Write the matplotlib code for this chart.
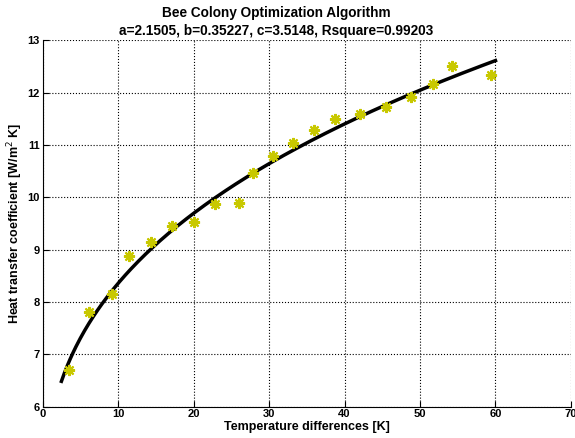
import numpy as np
import matplotlib.pyplot as plt

plt.rcParams['font.family'] = ['Liberation Sans', 'DejaVu Sans']

# Measured points
temp_diff = [3.55, 6.2, 9.2, 11.5, 14.4, 17.1, 20.1, 22.8, 26.0, 27.9, 30.5,
             33.2, 35.9, 38.7, 42.1, 45.5, 48.8, 51.7, 54.3, 59.4]
htc = [6.70, 7.80, 8.15, 8.87, 9.15, 9.45, 9.52, 9.87, 9.90, 10.47, 10.78,
       11.04, 11.28, 11.50, 11.59, 11.73, 11.91, 12.16, 12.50, 12.34]

# Fit parameters (from title): h = a*dT^b + c
a, b, c = 2.1505, 0.35227, 3.5148
rsq = 0.99203
fit_range = (2.5, 60)

fig = plt.figure(figsize=(5.75, 4.38), dpi=100)
ax = fig.add_axes([0.074, 0.0715, 0.919, 0.8365])

xf = np.linspace(fit_range[0], fit_range[1], 300)
ax.plot(xf, a * xf ** b + c, color='black', linewidth=2.5, zorder=3)
ax.plot(temp_diff, htc, linestyle='none', marker=(8, 2, 0), markersize=8,
        markeredgewidth=1.5, color='#c8c800', zorder=4)

ax.set_xlim(0, 70)
ax.set_ylim(6, 13)
ax.set_xticks(range(0, 71, 10))
ax.set_yticks(range(6, 14))
ax.grid(True, color='black', linestyle=':', linewidth=0.8)
ax.spines['top'].set_visible(False)
ax.spines['right'].set_visible(False)
ax.tick_params(direction='in', labelsize=8, length=4, pad=2)
for lbl in ax.get_xticklabels() + ax.get_yticklabels():
    lbl.set_fontweight('bold')

ax.set_xlabel('Temperature differences [K]', fontsize=9, fontweight='bold', labelpad=1)
ax.set_ylabel('Heat transfer coefficient [W/m$^2$ K]', fontsize=9,
              fontweight='bold', labelpad=2)
fig.text(0.48, 0.949, 'Bee Colony Optimization Algorithm\n'
         f'a={a}, b={b}, c={c}, Rsquare={rsq}',
         fontsize=9.8, fontweight='bold', ha='center', va='center',
         linespacing=1.38)

fig.savefig('out.png', dpi=100)
